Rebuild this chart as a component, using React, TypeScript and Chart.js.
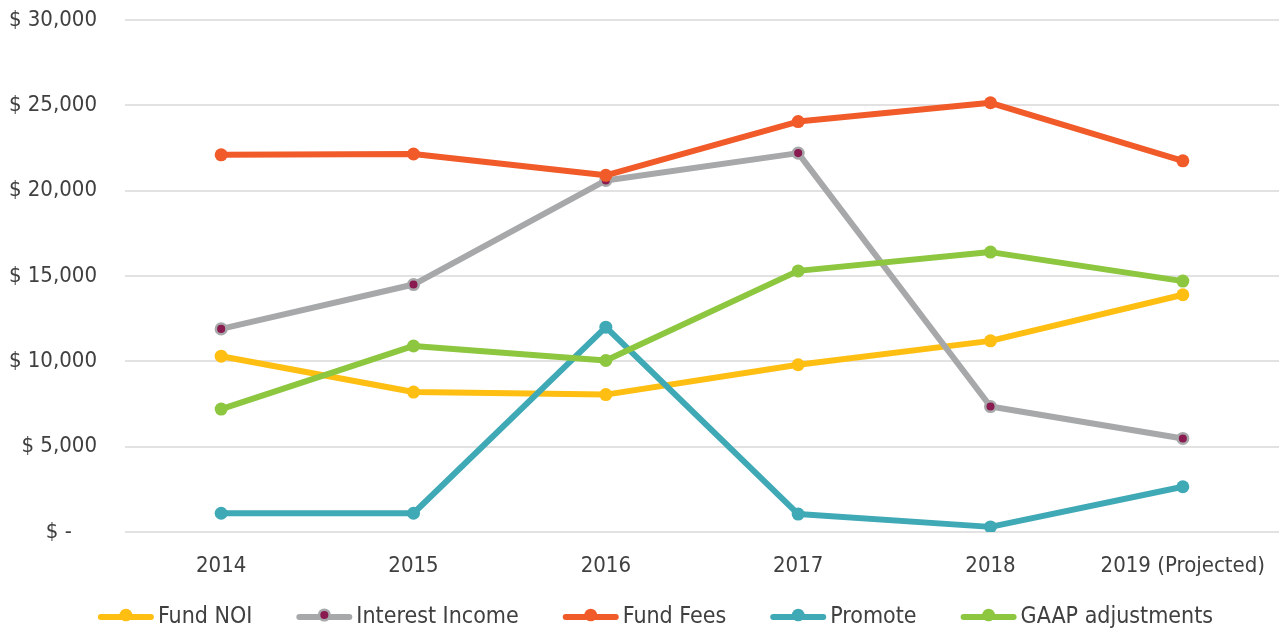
import React, { useEffect, useRef } from "react";
import { Chart, registerables } from "chart.js";

Chart.register(...registerables);

const categories = ["2014", "2015", "2016", "2017", "2018", "2019 (Projected)"];
const fundNOI = [10300, 8200, 8050, 9800, 11200, 13900];
const interestIncome = [11900, 14500, 20600, 22200, 7350, 5480];
const fundFees = [22100, 22150, 20900, 24050, 25150, 21750];
const promote = [1100, 1100, 12000, 1050, 300, 2650];
const gaapAdjustments = [7200, 10900, 10050, 15300, 16400, 14700];

const seriesNames = ["Fund NOI", "Interest Income", "Fund Fees", "Promote", "GAAP adjustments"];
const seriesValues = [fundNOI, interestIncome, fundFees, promote, gaapAdjustments];
const seriesColors = ["#FFBE12", "#A7A8AA", "#F15A29", "#3FA9B6", "#8DC63F"];
const interestMarkerFill = "#8A1B50";

const Y_MIN = 0;
const Y_MAX = 30000;
const Y_STEP = 5000;

const FONT = "'DejaVu Sans Condensed', 'Liberation Sans Narrow', 'DejaVu Sans', sans-serif";
const TEXT_COLOR = "#404040";

const formatTick = (v: number) => (v === 0 ? "$ -    " : "$ " + v.toLocaleString("en-US"));

const customLegend = {
  id: "customLegend",
  afterDraw(chart: any) {
    const ctx = chart.ctx as CanvasRenderingContext2D;
    ctx.save();
    ctx.font = `23px ${FONT}`;
    const sampleW = 56;
    const gapText = 4;
    const gapItem = 44;
    const widths = seriesNames.map((n) => ctx.measureText(n).width);
    const total =
      widths.reduce((a, w) => a + sampleW + gapText + w, 0) + gapItem * (seriesNames.length - 1);
    let x = chart.width / 2 + 15 - total / 2;
    const y = 617;
    seriesNames.forEach((name, i) => {
      const c = seriesColors[i];
      ctx.beginPath();
      ctx.strokeStyle = c;
      ctx.lineWidth = 6;
      ctx.lineCap = "round";
      ctx.moveTo(x + 3, y);
      ctx.lineTo(x + sampleW - 3, y);
      ctx.stroke();
      const cx = x + sampleW / 2;
      ctx.beginPath();
      if (i === 1) {
        ctx.arc(cx, y - 2, 5.3, 0, Math.PI * 2);
        ctx.fillStyle = interestMarkerFill;
        ctx.fill();
        ctx.lineWidth = 2.5;
        ctx.strokeStyle = c;
        ctx.stroke();
      } else {
        ctx.arc(cx, y - 2, 6.3, 0, Math.PI * 2);
        ctx.fillStyle = c;
        ctx.fill();
      }
      ctx.fillStyle = TEXT_COLOR;
      ctx.textAlign = "left";
      ctx.textBaseline = "middle";
      ctx.fillText(name, x + sampleW + gapText, y);
      x += sampleW + gapText + widths[i] + gapItem;
    });
    ctx.restore();
  },
};

export default function App() {
  const canvasRef = useRef<HTMLCanvasElement | null>(null);

  useEffect(() => {
    document.body.style.margin = "0";
    const canvas = canvasRef.current;
    if (!canvas) return;
    const datasets = seriesNames.map((name, i) => ({
      label: name,
      data: seriesValues[i],
      borderColor: seriesColors[i],
      backgroundColor: seriesColors[i],
      borderWidth: 6,
      borderJoinStyle: "round" as const,
      tension: 0,
      fill: false,
      pointRadius: i === 1 ? 5.3 : 6.5,
      pointBorderWidth: i === 1 ? 2.5 : 0,
      pointBackgroundColor: i === 1 ? interestMarkerFill : seriesColors[i],
      pointBorderColor: seriesColors[i],
      order: seriesNames.length - i,
    }));
    const chart = new Chart(canvas, {
      type: "line",
      data: { labels: categories, datasets },
      options: {
        animation: false,
        responsive: true,
        maintainAspectRatio: false,
        layout: { autoPadding: false, padding: { top: 20, right: 2, left: 0, bottom: 0 } },
        plugins: { legend: { display: false }, tooltip: { enabled: false } },
        scales: {
          x: {
            offset: true,
            grid: { display: false, drawTicks: true, tickLength: 21 },
            border: { display: false },
            ticks: {
              color: TEXT_COLOR,
              font: { family: FONT, size: 22 },
              padding: 0,
              maxRotation: 0,
              autoSkip: false,
            },
            afterFit: (s: any) => {
              s.height = 101;
              s.paddingLeft = 0;
              s.paddingRight = 0;
            },
          },
          y: {
            min: Y_MIN,
            max: Y_MAX,
            ticks: {
              stepSize: Y_STEP,
              callback: (v: any) => formatTick(Number(v)),
              color: TEXT_COLOR,
              font: { family: FONT, size: 22 },
              padding: 0,
            },
            grid: {
              color: "#E2E2E2",
              lineWidth: 2,
              drawTicks: true,
              tickLength: 28,
              tickColor: "rgba(0,0,0,0)",
            },
            border: { display: false },
            afterFit: (s: any) => {
              s.width = 125;
              s.paddingTop = 0;
              s.paddingBottom = 0;
            },
          },
        },
      },
      plugins: [customLegend],
    });
    return () => chart.destroy();
  }, []);

  return (
    <div style={{ position: "fixed", left: 0, top: 0, width: 1281, height: 633 }}>
      <canvas ref={canvasRef} />
    </div>
  );
}
